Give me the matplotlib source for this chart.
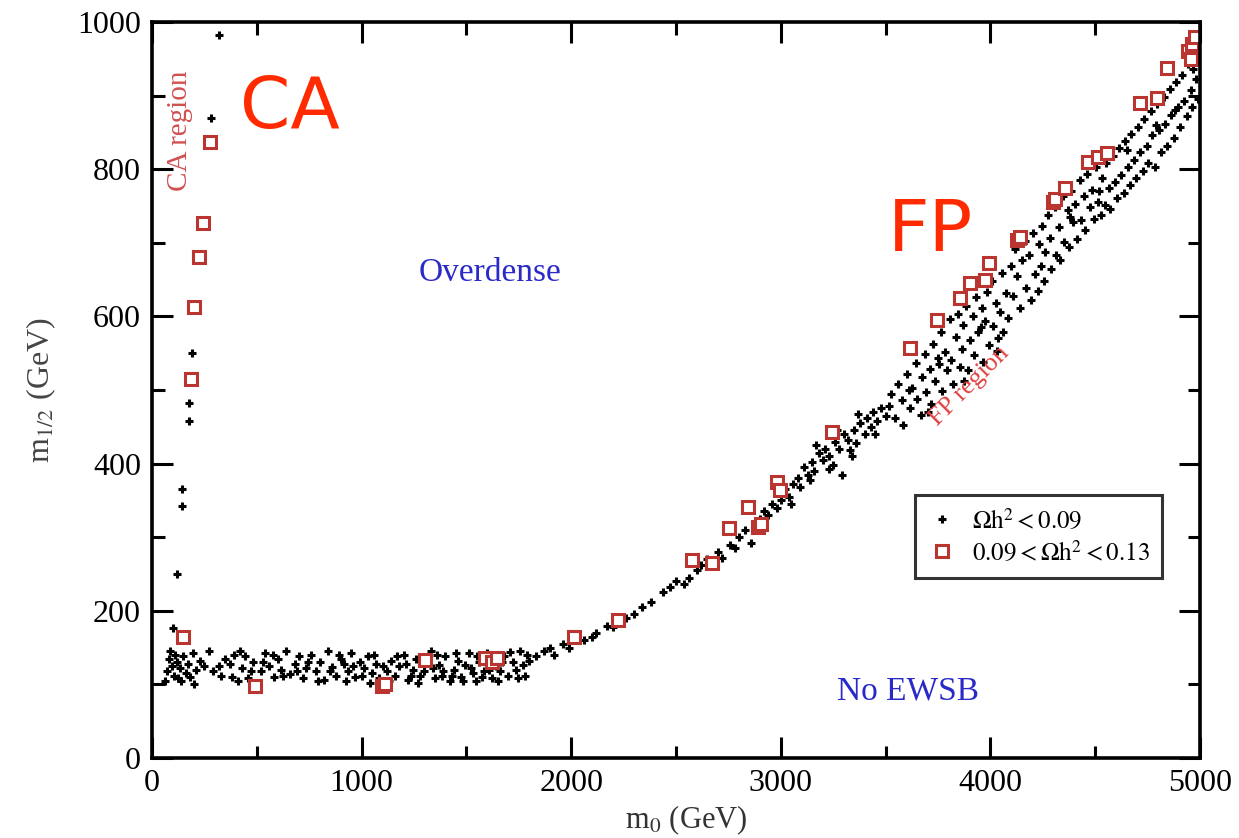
import numpy as np
import matplotlib
matplotlib.use("Agg")
import matplotlib.pyplot as plt
from matplotlib.ticker import MultipleLocator

plt.rcParams["font.family"] = ["Liberation Serif", "DejaVu Serif"]
plt.rcParams["mathtext.fontset"] = "stix"

# black points: Omega h^2 < 0.09  (m0, m1/2) in GeV
ca_black = [(320, 982), (282, 870), (192, 550), (175, 482), (178, 458),
            (145, 365), (143, 342), (118, 250), (100, 176)]

plateau_black = [
    (70, 118), (80, 135), (85, 145), (95, 125), (105, 112), (110, 140), (120, 130),
    (125, 108), (135, 122), (150, 138), (160, 115), (170, 128), (180, 110), (195, 142),
    (210, 120), (230, 132), (250, 125), (270, 145), (290, 118), (330, 112), (350, 135),
    (370, 128), (390, 140), (410, 105), (430, 122), (445, 138), (460, 108), (480, 130),
    (520, 118), (540, 142), (560, 125), (580, 110), (600, 135), (615, 120), (640, 146),
    (660, 114), (680, 128), (700, 138), (720, 108), (735, 122), (760, 140), (780, 118),
    (800, 130), (820, 106), (840, 145), (860, 124), (880, 112), (900, 135), (915, 128),
    (935, 118), (950, 142), (970, 110), (990, 130), (1010, 122), (1030, 138), (1050, 115),
    (1070, 128), (1085, 108), (1120, 118), (1140, 132), (1160, 112), (1180, 125),
    (1200, 140), (1220, 106), (1245, 120), (1260, 135), (1280, 112), (1300, 118),
    (1330, 145), (1350, 108), (1370, 126), (1385, 112), (1400, 138), (1420, 104),
    (1440, 120), (1460, 132), (1475, 110), (1495, 126), (1510, 142), (1530, 115),
    (1545, 104), (1560, 130), (1585, 118), (1600, 142), (1620, 108), (1640, 125),
    (1660, 118), (1680, 138), (1700, 112), (1720, 130), (1735, 120), (1755, 145),
    (1770, 126), (1790, 140), (60, 105), (140, 104), (200, 100), (320, 125), (380, 110),
    (420, 145), (470, 118), (500, 102), (530, 130), (575, 140), (625, 112), (690, 118),
    (745, 130), (790, 104), (850, 118), (890, 140), (925, 105), (960, 125), (1000, 112),
    (1040, 102), (1060, 140), (1100, 125), (1130, 104), (1170, 138), (1210, 128),
    (1235, 112), (1270, 102), (1310, 130), (1340, 122), (1360, 140), (1390, 118),
    (1430, 112), (1450, 142), (1485, 104), (1520, 122), (1550, 138), (1575, 110),
    (1610, 120), (1650, 104), (1670, 130), (1710, 144), (1745, 108), (1780, 112),
    (1800, 132)]

ramp_black = [
    (1830, 138), (1870, 145), (1900, 150), (1920, 140), (1960, 155), (1990, 150),
    (2030, 168), (2060, 160), (2100, 165), (2120, 170), (2170, 180), (2200, 178),
    (2260, 190), (2300, 195), (2340, 205), (2380, 212), (2440, 225), (2470, 232),
    (2500, 240), (2540, 236), (2560, 245), (2600, 255)]

band_black = [
    (2620, 262), (2650, 270), (2700, 280), (2720, 272), (2760, 290), (2780, 285),
    (2800, 300), (2830, 310), (2860, 292), (2880, 318), (2900, 325), (2920, 335),
    (2940, 330), (2960, 345), (2980, 340), (3000, 350), (3020, 365), (3040, 355),
    (3060, 372), (3080, 380), (3090, 368), (3110, 395), (3130, 385), (3150, 402),
    (3160, 390), (3180, 415), (3200, 405), (3210, 420), (3230, 410), (3250, 398),
    (3260, 430), (3280, 420), (3290, 385), (3300, 440), (3320, 432), (3330, 418),
    (3350, 445), (3360, 428), (3380, 455), (3400, 440), (3410, 462), (3430, 450),
    (3440, 470), (3460, 458), (3480, 475), (3500, 465), (3050, 345), (3140, 378),
    (3230, 392), (3340, 410), (3450, 440), (3170, 425), (3270, 445), (3370, 468),
    (3515, 478), (3528, 495), (3546, 462), (3561, 508), (3577, 487), (3584, 452),
    (3603, 522), (3618, 476), (3626, 503), (3644, 537), (3652, 488), (3667, 466),
    (3673, 518), (3689, 549), (3694, 497), (3712, 528), (3718, 481), (3725, 563),
    (3737, 512), (3748, 544), (3766, 579), (3771, 498), (3785, 552), (3793, 527),
    (3806, 596), (3814, 541), (3822, 508), (3835, 572), (3847, 603), (3853, 531),
    (3864, 556), (3871, 589), (3886, 614), (3893, 527), (3902, 568), (3915, 601),
    (3924, 547), (3933, 626), (3941, 579), (3958, 612), (3966, 538), (3975, 594),
    (3984, 633), (3992, 561), (4006, 648), (4013, 587), (4025, 618), (4031, 553),
    (4046, 606), (4054, 659), (4062, 579), (4075, 632), (4083, 598), (4097, 668),
    (3610, 500), (3757, 536), (3875, 512), (4038, 571), (3700, 470), (3955, 585)]

top_black = [
    (4108, 628), (4116, 692), (4127, 655), (4142, 611), (4149, 676), (4163, 703),
    (4171, 638), (4186, 684), (4193, 622), (4204, 713), (4212, 657), (4226, 634),
    (4231, 698), (4247, 723), (4255, 648), (4262, 687), (4274, 738), (4285, 706),
    (4291, 664), (4306, 749), (4313, 684), (4327, 722), (4334, 676), (4345, 763),
    (4352, 701), (4368, 744), (4373, 694), (4384, 771), (4396, 728), (4402, 753),
    (4415, 705), (4426, 786), (4432, 731), (4447, 764), (4451, 717), (4463, 793),
    (4476, 748), (4484, 772), (4492, 733), (4505, 803), (4513, 756), (4528, 738),
    (4532, 788), (4546, 752), (4554, 808), (4567, 774), (4573, 746), (4585, 818),
    (4596, 783), (4604, 761), (4612, 829), (4625, 792), (4637, 768), (4643, 838),
    (4656, 803), (4664, 779), (4672, 848), (4683, 812), (4697, 788), (4705, 858),
    (4714, 823), (4726, 797), (4734, 868), (4745, 832), (4752, 808), (4766, 879),
    (4773, 846), (4787, 803), (4794, 888), (4806, 853), (4813, 824), (4826, 898),
    (4834, 862), (4843, 832), (4856, 909), (4862, 874), (4875, 843), (4884, 918),
    (4893, 884), (4905, 857), (4913, 928), (4924, 893), (4936, 872), (4942, 943),
    (4955, 907), (4963, 884), (4972, 957), (4983, 923), (4991, 896), (4996, 963),
    (4987, 947), (4967, 936), (4520, 770), (4650, 826), (4380, 735), (4240, 668),
    (4790, 860), (4880, 880)]

# red squares: 0.09 < Omega h^2 < 0.13
red_squares = [
    (148, 165), (186, 515), (200, 613), (224, 681), (243, 727), (277, 837),
    (491, 98), (1095, 98), (1110, 100), (1302, 133), (1589, 136), (1620, 130),
    (1646, 136), (2013, 164), (2223, 188), (2576, 269), (2672, 265), (2753, 312),
    (2844, 341), (2891, 314), (2905, 318), (2982, 375), (2996, 364), (3244, 443),
    (3616, 557), (3745, 595), (3855, 625), (3903, 645), (3974, 649), (3993, 672),
    (4127, 704), (4140, 708), (4299, 755), (4310, 760), (4356, 774), (4466, 810),
    (4513, 816), (4556, 822), (4714, 890), (4795, 897), (4843, 938), (4945, 960),
    (4955, 950), (4960, 970), (4975, 980)]

black = np.array(ca_black + plateau_black + ramp_black + band_black + top_black)
red = np.array(red_squares)

fig = plt.figure(figsize=(12.39, 8.38), dpi=100)
ax = fig.add_axes([0.1227, 0.0955, 0.8458, 0.8782])

ax.plot(black[:, 0], black[:, 1], "+", color="black", ms=6, mew=2.2,
        linestyle="none", label=r"$\Omega\mathrm{h}^2 < 0.09$")
ax.plot(red[:, 0], red[:, 1], "s", mfc="white", mec="#bb3530", ms=9, mew=2.2,
        linestyle="none", label=r"$0.09 < \Omega\mathrm{h}^2 < 0.13$")

ax.set_xlim(0, 5000)
ax.set_ylim(0, 1000)
ax.xaxis.set_major_locator(MultipleLocator(1000))
ax.xaxis.set_minor_locator(MultipleLocator(500))
ax.yaxis.set_major_locator(MultipleLocator(200))
ax.yaxis.set_minor_locator(MultipleLocator(100))
ax.tick_params(which="both", direction="in", top=True, right=True, width=2.2,
               labelsize=23, colors="black")
ax.tick_params(which="major", length=15, pad=8)
ax.tick_params(which="minor", length=9)
for sp in ax.spines.values():
    sp.set_linewidth(2.6)

ax.set_xlabel(r"m$_0$ (GeV)", fontsize=22, color="#333333")
ax.xaxis.set_label_coords(0.51, -0.062)
ax.set_ylabel(r"m$_{1/2}$ (GeV)", fontsize=23, labelpad=14, color="#444444")

leg = ax.legend(loc="lower right", bbox_to_anchor=(0.976, 0.228), fontsize=18,
                frameon=True, fancybox=False, edgecolor="black", handletextpad=0.6,
                borderpad=0.5, labelspacing=0.3, markerscale=0.9, handlelength=1.2)
leg.get_frame().set_linewidth(2.2)

ax.text(1613, 660, "Overdense", color="#2a2ac8", fontsize=24, ha="center", va="center")
ax.text(3607, 90, "No EWSB", color="#2a2ac8", fontsize=24, ha="center", va="center")
ax.text(134, 852, "CA region", color="#d05050", fontsize=21, rotation=90,
        ha="center", va="center")
ax.text(3900, 505, "FP region", color="#e04040", fontsize=19, rotation=45,
        ha="center", va="center")

ax.text(658, 883, "CA", color="#ff2a00", fontsize=52, family="DejaVu Sans",
        ha="center", va="center")
ax.text(3712, 715, "FP", color="#ff2a00", fontsize=52, family="DejaVu Sans",
        ha="center", va="center")

fig.savefig("out.png", dpi=100)
